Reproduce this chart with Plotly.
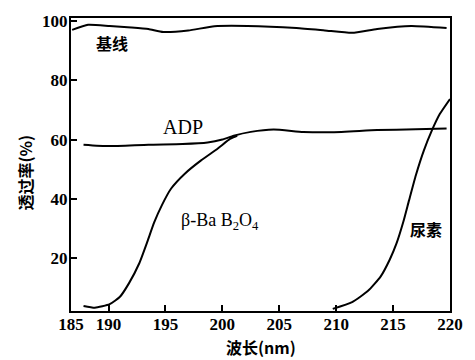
import plotly.graph_objects as go

# Wavelength (nm) and transmittance (%)
base_x = [186.8, 188.2, 190.1, 192.0, 193.5, 194.8, 197.0, 199.3, 202.2, 206.5, 209.0, 211.4, 213.6, 216.6, 219.7]
base_y = [97.0, 98.7, 98.3, 97.8, 97.3, 96.3, 96.8, 98.2, 98.3, 97.6, 96.8, 96.0, 97.3, 98.3, 97.6]

adp_x = [187.8, 190.0, 193.5, 196.5, 198.7, 200.0, 201.0, 202.5, 204.5, 207.1, 209.7, 213.6, 217.0, 219.7]
adp_y = [58.3, 57.8, 58.3, 58.5, 59.0, 60.0, 61.3, 62.6, 63.4, 62.6, 62.5, 63.2, 63.5, 63.7]

bbo_x = [187.8, 188.8, 190.1, 191.0, 191.8, 192.7, 193.4, 194.0, 194.7, 195.5, 196.7, 198.1, 199.6, 200.7, 201.3]
bbo_y = [3.9, 3.3, 4.5, 7.0, 11.6, 18.3, 25.5, 32.0, 38.0, 43.5, 48.5, 52.9, 57.0, 60.3, 61.3]

urea_x = [209.7, 211.4, 212.8, 213.9, 214.7, 215.3, 215.9, 216.4, 217.0, 217.7, 218.4, 219.1, 220.0]
urea_y = [2.9, 5.2, 9.0, 13.8, 19.5, 25.0, 32.3, 39.5, 48.0, 56.3, 63.0, 68.6, 73.7]

x_tick_vals = [186.7, 190, 195, 200, 205, 210, 215, 220]
x_tick_text = ["185", "190", "195", "200", "205", "210", "215", "220"]
y_tick_vals = [20, 40, 60, 80, 100]

line = dict(color="black", width=2, shape="spline", smoothing=0.5)

fig = go.Figure()
for xs, ys in [(base_x, base_y), (adp_x, adp_y), (bbo_x, bbo_y), (urea_x, urea_y)]:
    fig.add_trace(go.Scatter(x=xs, y=ys, mode="lines", line=line, showlegend=False, hoverinfo="skip"))

SERIF = "Liberation Serif, DejaVu Serif, serif"
num_font = dict(family=SERIF, size=17, color="black", weight="bold")
cjk_font = dict(family="Noto Sans CJK SC", size=16, color="black", weight="bold")

fig.add_annotation(x=190.3, y=92.6, text="基线", showarrow=False, font=cjk_font)
fig.add_annotation(x=196.5, y=64.2, text="ADP", showarrow=False,
                   font=dict(family=SERIF, size=20, color="black"))
fig.add_annotation(x=199.8, y=32.5, text="β-Ba B<sub>2</sub>O<sub>4</sub>", showarrow=False,
                   font=dict(family=SERIF, size=18, color="black"))
fig.add_annotation(x=217.9, y=29.7, text="尿素", showarrow=False, font=cjk_font)
fig.add_annotation(x=0.5, xref="paper", y=-0.122, yref="paper", yanchor="middle",
                   text="波长(nm)", showarrow=False, font=cjk_font)
fig.add_annotation(x=-0.121, xref="paper", y=0.473, yref="paper", textangle=-90,
                   xanchor="center", yanchor="middle",
                   text="透过率(%)", showarrow=False, font=cjk_font)

fig.update_layout(
    width=475, height=360,
    margin=dict(l=71, r=17, t=17, b=49),
    plot_bgcolor="white", paper_bgcolor="white",
)
fig.update_xaxes(range=[186.7, 220], tickvals=x_tick_vals, ticktext=x_tick_text,
                 showgrid=False, zeroline=False, showline=True, linecolor="black", linewidth=2,
                 mirror=True, ticks="inside", ticklen=6, tickwidth=1.5, tickcolor="black",
                 tickfont=num_font, ticklabelstandoff=-3)
fig.update_yaxes(range=[2.2, 101], tickvals=y_tick_vals,
                 showgrid=False, zeroline=False, showline=True, linecolor="black", linewidth=2,
                 mirror=True, ticks="inside", ticklen=6, tickwidth=1.5, tickcolor="black",
                 tickfont=num_font, ticklabelstandoff=-2)

fig.write_html("out.html", config={"displayModeBar": False},
               post_script="document.body.style.margin='0px';")
